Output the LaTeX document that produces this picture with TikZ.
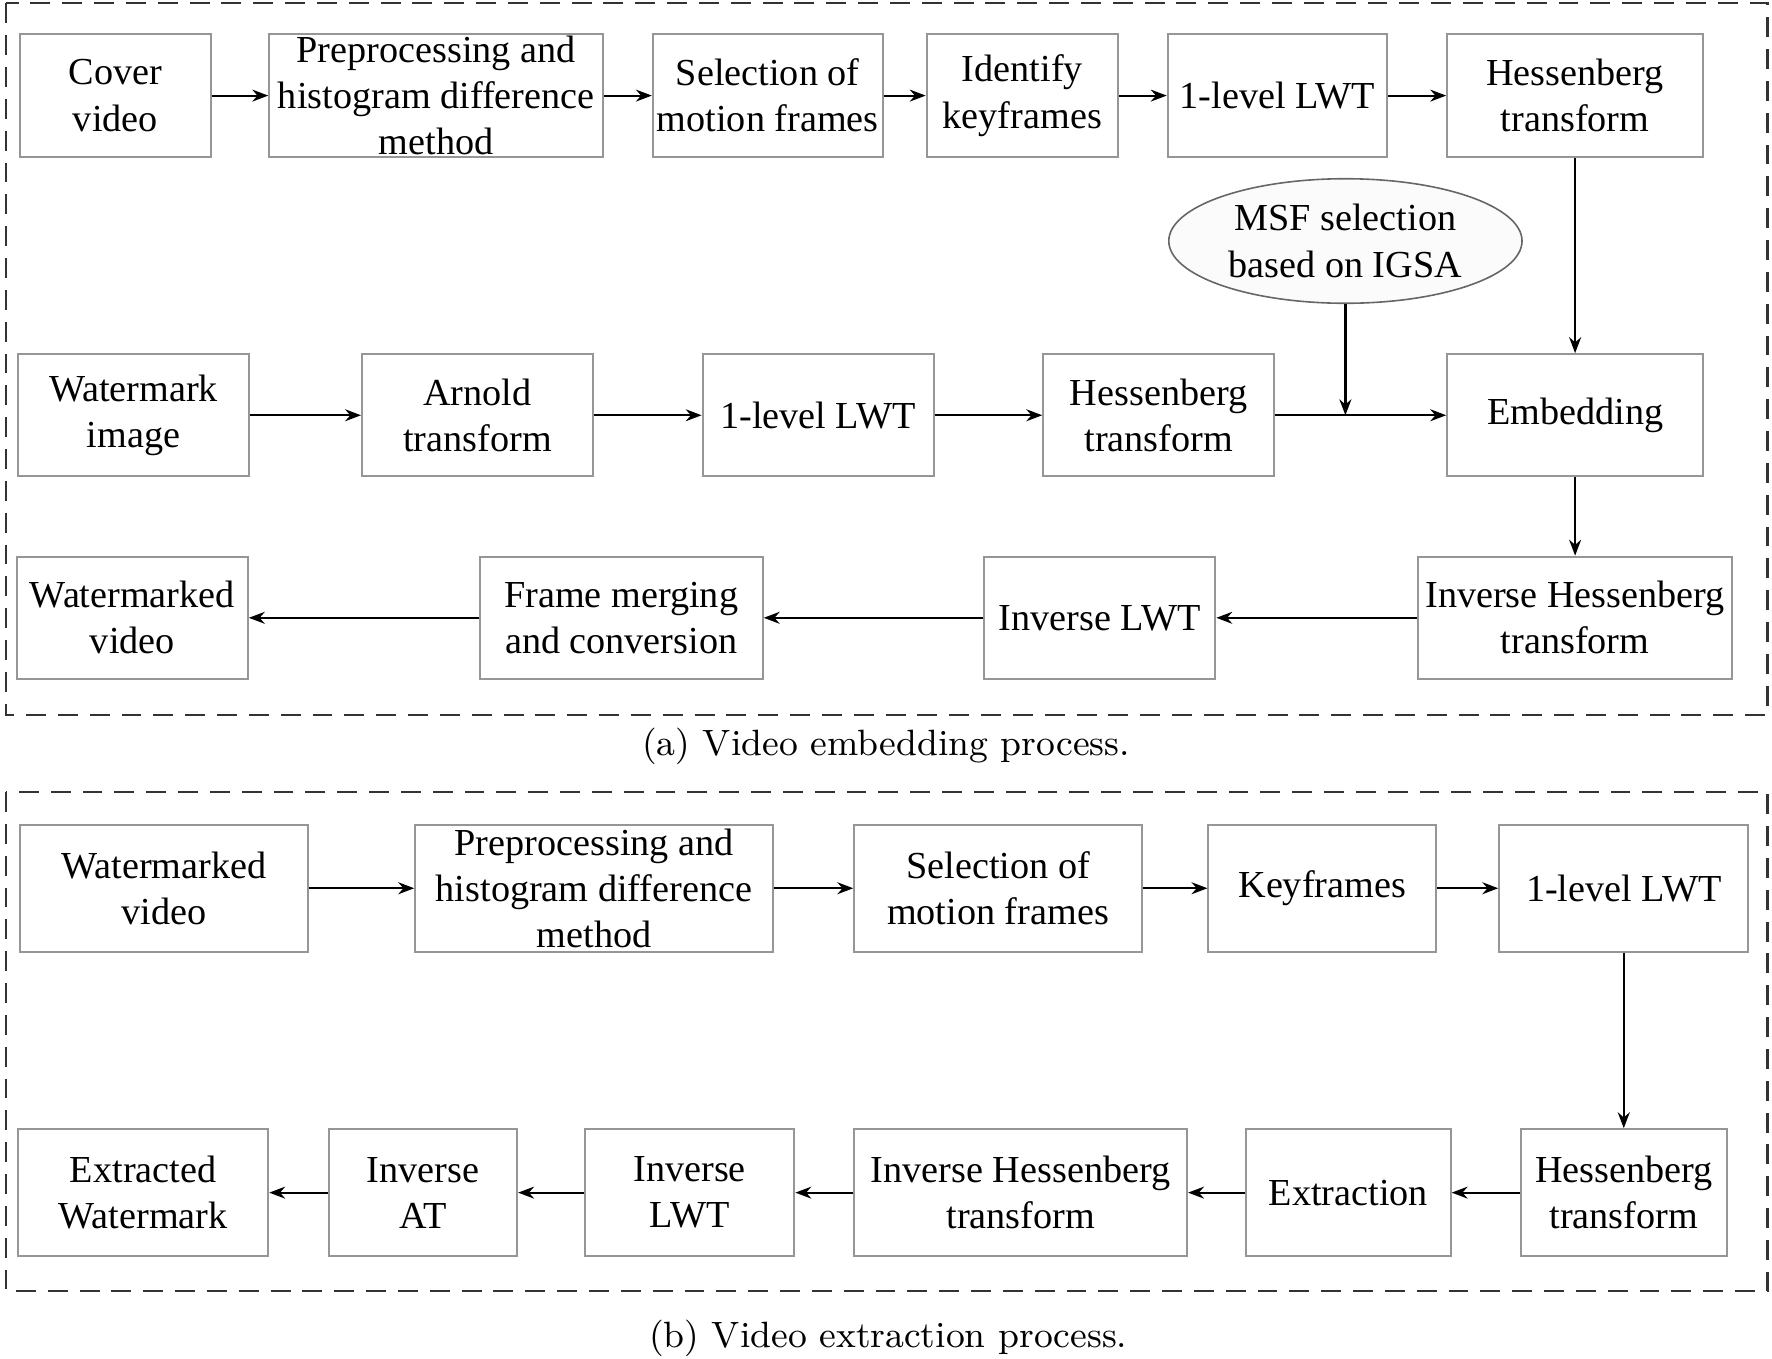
\documentclass[tikz,border=0pt]{standalone}
\usepackage{fontspec}
\usepackage{xcolor}
\newfontfamily\boxfont{Liberation Serif}
\usetikzlibrary{shapes,arrows.meta,positioning,calc}
\definecolor{boxgray}{RGB}{150,150,150}
\definecolor{ovalfill}{RGB}{251,251,251}

\begin{document}
\begin{tikzpicture}[x=0.01cm, y=-0.01cm,
    blk/.style={draw=boxgray, line width=0.5pt, inner sep=0pt, align=center,
        font=\boxfont\fontsize{9.6}{11.6}\selectfont},
    oval/.style={blk, ellipse, draw=black!60, line width=0.4pt, fill=ovalfill},
    flow/.style={-{Stealth[length=4pt,width=3pt]}, line width=0.55pt},
    frame/.style={draw=black!80, line width=0.55pt, dash pattern=on 5pt off 3pt},
    subcap/.style={font=\fontsize{9.2}{11}\selectfont}]
    \useasboundingbox (0,0) rectangle (1566,1201);

    % (a) embedding
    \draw[frame] (5,3) rectangle (1562,632);
    \node[blk, minimum width=1.68cm, minimum height=1.09cm] (cov) at (102,84.5) {Cover\\video};
    \node[blk, minimum width=2.95cm, minimum height=1.09cm] (pre) at (385.5,84.5) {Preprocessing and\\histogram difference\\method};
    \node[blk, minimum width=2.03cm, minimum height=1.09cm] (sel) at (678.5,84.5) {Selection of\\motion frames};
    \node[blk, minimum width=1.69cm, minimum height=1.09cm] (key) at (903.5,84.5) {Identify\\keyframes};
    \node[blk, minimum width=1.94cm, minimum height=1.09cm] (lwt) at (1129,84.5) {1-level LWT};
    \node[blk, minimum width=2.26cm, minimum height=1.09cm] (hes) at (1392,84.5) {Hessenberg\\transform};
    \node[oval, minimum width=3.12cm, minimum height=1.1cm] (msf) at (1189,213) {MSF selection\\based on IGSA};

    \node[blk, minimum width=2.04cm, minimum height=1.08cm] (wmi) at (118,367) {Watermark\\image};
    \node[blk, minimum width=2.04cm, minimum height=1.08cm] (arn) at (422,367) {Arnold\\transform};
    \node[blk, minimum width=2.04cm, minimum height=1.08cm] (wlwt) at (723,367) {1-level LWT};
    \node[blk, minimum width=2.04cm, minimum height=1.08cm] (whes) at (1024,367) {Hessenberg\\transform};
    \node[blk, minimum width=2.26cm, minimum height=1.08cm] (emb) at (1392,367) {Embedding};
    \coordinate (join) at (1189,367);

    \node[blk, minimum width=2.04cm, minimum height=1.08cm] (wmv) at (117,546) {Watermarked\\video};
    \node[blk, minimum width=2.50cm, minimum height=1.08cm] (mrg) at (549,546) {Frame merging\\and conversion};
    \node[blk, minimum width=2.04cm, minimum height=1.08cm] (ilwt) at (972,546) {Inverse LWT};
    \node[blk, minimum width=2.77cm, minimum height=1.08cm] (ihes) at (1392,546) {Inverse Hessenberg\\transform};

    \draw[flow] (cov) -- (pre);
    \draw[flow] (pre) -- (sel);
    \draw[flow] (sel) -- (key);
    \draw[flow] (key) -- (lwt);
    \draw[flow] (lwt) -- (hes);
    \draw[flow] (hes) -- (emb);
    \draw[flow] (wmi) -- (arn);
    \draw[flow] (arn) -- (wlwt);
    \draw[flow] (wlwt) -- (whes);
    \draw[flow] (whes) -- (emb);
    \draw[flow] (msf) -- (join);
    \draw[flow] (emb) -- (ihes);
    \draw[flow] (ihes) -- (ilwt);
    \draw[flow] (ilwt) -- (mrg);
    \draw[flow] (mrg) -- (wmv);
    \node[subcap] (capa) at (783,660) {(a) Video embedding process.};

    % (b) extraction
    \draw[frame] (5,700) rectangle (1562,1141);
    \node[blk, minimum width=2.54cm, minimum height=1.12cm] (xwv) at (145,785) {Watermarked\\video};
    \node[blk, minimum width=3.16cm, minimum height=1.12cm] (xpre) at (525,785) {Preprocessing and\\histogram difference\\method};
    \node[blk, minimum width=2.54cm, minimum height=1.12cm] (xsel) at (882,785) {Selection of\\motion frames};
    \node[blk, minimum width=2.01cm, minimum height=1.12cm] (xkey) at (1168.5,785) {Keyframes};
    \node[blk, minimum width=2.20cm, minimum height=1.12cm] (xlwt) at (1435,785) {1-level LWT};

    \node[blk, minimum width=2.21cm, minimum height=1.12cm] (xwm) at (126.5,1054) {Extracted\\Watermark};
    \node[blk, minimum width=1.66cm, minimum height=1.12cm] (xiat) at (374,1054) {Inverse\\AT};
    \node[blk, minimum width=1.85cm, minimum height=1.12cm] (xilw) at (609.5,1054) {Inverse\\LWT};
    \node[blk, minimum width=2.94cm, minimum height=1.12cm] (xihs) at (902,1054) {Inverse Hessenberg\\transform};
    \node[blk, minimum width=1.81cm, minimum height=1.12cm] (xext) at (1191.5,1054) {Extraction};
    \node[blk, minimum width=1.82cm, minimum height=1.12cm] (xhes) at (1435,1054) {Hessenberg\\transform};

    \draw[flow] (xwv) -- (xpre);
    \draw[flow] (xpre) -- (xsel);
    \draw[flow] (xsel) -- (xkey);
    \draw[flow] (xkey) -- (xlwt);
    \draw[flow] (xlwt) -- (xhes);
    \draw[flow] (xhes) -- (xext);
    \draw[flow] (xext) -- (xihs);
    \draw[flow] (xihs) -- (xilw);
    \draw[flow] (xilw) -- (xiat);
    \draw[flow] (xiat) -- (xwm);
    \node[subcap] (capb) at (785,1183) {(b) Video extraction process.};
\end{tikzpicture}
\end{document}
